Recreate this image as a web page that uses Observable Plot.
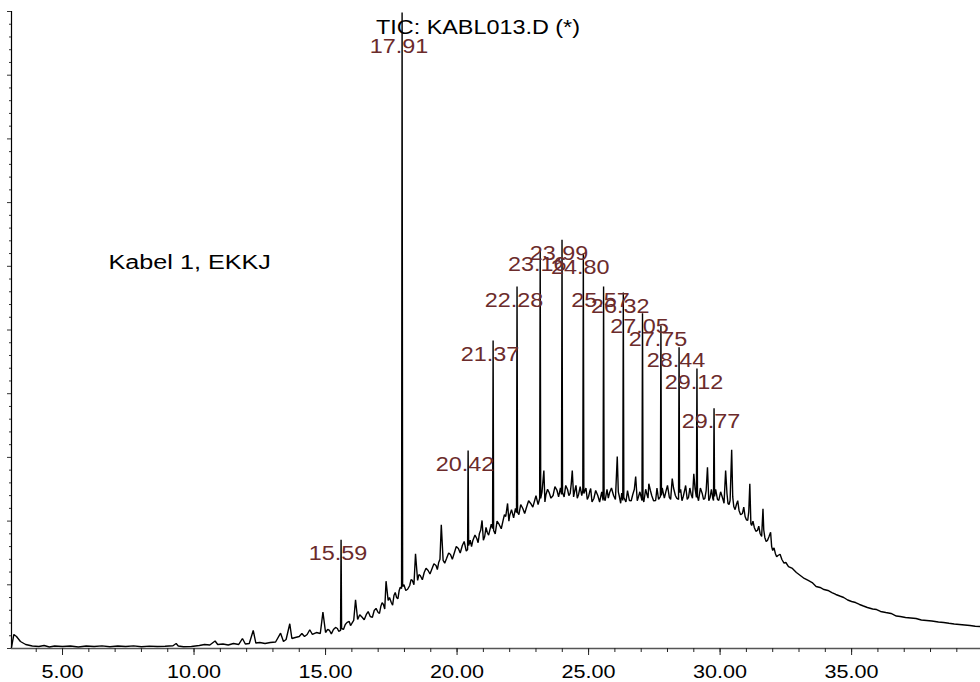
<!DOCTYPE html>
<html><head><meta charset="utf-8">
<script src="https://cdn.jsdelivr.net/npm/d3@7"></script>
<script src="https://cdn.jsdelivr.net/npm/@observablehq/plot@0.6"></script>
<style>html,body{margin:0;padding:0;background:#fff;} #chart{width:980px;height:682px;overflow:hidden}</style>
</head><body><div id="chart"></div>
<script>
// Retention time (min) of the total ion chromatogram trace
const traceTime = [3.06,3.15,3.25,3.4,3.6,3.85,4.1,4.3,4.5,4.7,5.0,5.3,5.6,5.9,6.2,6.5,6.8,7.1,7.4,7.7,8.0,8.3,8.6,8.9,9.2,9.32,9.4,9.6,9.9,10.2,10.4,10.6,10.8,10.9,11.1,11.3,11.5,11.7,11.84,11.95,12.1,12.25,12.35,12.5,12.7,12.9,13.1,13.29,13.4,13.5,13.64,13.72,13.85,14.0,14.1,14.2,14.3,14.4,14.5,14.65,14.8,14.9,15.0,15.15,15.3,15.45,15.57,15.59,15.61,15.75,15.9,16.0,16.14,16.22,16.4,16.55,16.7,16.85,17.0,17.1,17.2,17.3,17.38,17.5,17.6,17.7,17.8,17.89,17.91,17.93,18.05,18.2,18.3,18.42,18.5,18.6,18.75,18.9,19.05,19.2,19.3,19.4,19.47,19.6,19.75,19.9,20.05,20.2,20.40,20.42,20.44,20.6,20.75,20.85,20.95,21.05,21.15,21.35,21.37,21.39,21.6,21.75,21.85,21.92,22.0,22.26,22.28,22.30,22.5,22.65,22.8,22.95,23.14,23.16,23.18,23.3,23.38,23.5,23.65,23.8,23.97,23.99,24.01,24.2,24.3,24.38,24.47,24.62,24.78,24.8,24.82,25.0,25.08,25.2,25.35,25.55,25.57,25.59,25.8,25.95,26.09,26.17,26.30,26.32,26.34,26.55,26.68,26.79,26.9,27.03,27.05,27.07,27.22,27.29,27.4,27.55,27.73,27.75,27.77,27.95,28.07,28.18,28.3,28.42,28.44,28.46,28.6,28.69,28.8,28.9,29.0,29.10,29.12,29.14,29.32,29.42,29.52,29.62,29.75,29.77,29.79,29.95,30.1,30.21,30.3,30.38,30.44,30.52,30.62,30.72,30.85,30.95,31.05,31.13,31.2,31.3,31.42,31.52,31.63,31.7,31.8,31.92,32.0,32.1,32.2,32.35,32.5,32.6,32.75,32.9,33.05,33.2,33.35,33.5,33.65,33.8,33.95,34.1,34.25,34.4,34.55,34.7,34.85,35.0,35.15,35.3,35.45,35.6,35.8,35.95,36.1,36.3,36.5,36.7,36.85,37.05,37.25,37.45,37.65,37.85,38.05,38.3,38.5,38.7,38.9,39.1,39.3,39.5,39.7,39.9];
// Abundance (thousands of counts) at each time above
const traceAbundance = [1.6,22,18.8,11,6.3,3.9,3.1,4.7,2.4,3.9,3.1,3.9,2.4,3.9,3.1,4.2,2.8,3.9,3.1,4.1,2.8,3.8,3.1,3.5,4.4,7.9,3.9,2.7,3.1,4.7,6.3,5.5,11.8,6.3,7.1,5.5,7.9,6.3,15.7,7.1,7.9,28.3,8.6,9.4,7.9,9.4,10.2,24,11,14.1,38.8,15.7,17.3,18.8,23.6,18.8,22,29.4,22,25.1,23.6,57,25.1,28.3,29.8,31.4,28.3,170.6,31.4,37.7,42.4,39.3,76.5,45.5,48.7,53.4,50.2,59.7,56.5,65.9,69.1,105.7,75.4,72.2,83.2,80.1,91.1,94.2,998.5,97.3,91.1,98.9,106.8,148.7,106.8,114.6,119.3,122.5,125.6,130.3,135,194.2,138.2,141.3,147.6,150.7,157,161.7,155.4,310.9,161.7,169.6,172.7,180.6,201,175.8,182.1,188.4,483.6,185.3,194.7,201,207.2,227.7,208.8,213.5,568.3,213.5,219.8,222.9,227.7,232.4,235.5,624.9,235.5,279.5,241.8,244.9,240.2,248.1,241.8,641.7,244.9,249.6,243.4,279.5,246.5,241.8,248.1,620.2,243.4,238.6,251.2,235.5,240.2,232.4,568.3,237.1,244.9,240.2,301.4,238.6,232.4,558.9,237.1,232.4,241.8,270,238.6,232.4,526.4,235.5,241.8,258.6,240.2,232.4,238.6,507.1,240.2,248.1,237.1,266.9,240.2,233.9,473,244.9,238.6,255.9,237.1,241.8,274.3,237.1,439.6,238.6,243.4,235.5,284.6,237.1,232.4,377.3,238.6,232.4,235.5,279.5,227.7,232.4,312,222.9,226.1,216.7,212,207.2,201,258.6,193.1,190,185.3,180.6,219.3,174.3,169.6,182.6,153.9,149.2,146,139.7,135,128.7,125.6,119.3,114.6,109.9,106.8,103.6,97.3,95.8,92.6,91.1,87.9,84.8,82.4,80.1,76.1,73.8,72.2,69.1,66.7,64.4,62,61.2,58.1,56.5,55,51,50.2,48.7,47.9,47.1,44.7,44,43.2,41.6,40.8,39.6,38.5,37.7,36.9,36.1,34.9,34.5];

// Extra noise detail of the unresolved hump, read between the points above
const detailTime = [15.08,15.22,15.38,15.5,15.68,15.82,15.95,16.07,16.3,16.47,16.62,16.78,16.92,17.05,17.15,17.25,17.43,17.55,17.65,17.75,17.84,17.98,18.12,18.25,18.36,18.55,18.68,18.82,18.97,19.12,19.25,19.35,19.53,19.68,19.82,19.97,20.12,20.27,20.35,20.5,20.55,20.68,20.8,20.9,21.0,21.1,21.2,21.3,21.45,21.52,21.68,21.8,21.97,22.07,22.15,22.22,22.35,22.42,22.57,22.72,22.88,23.0,23.08,23.23,23.34,23.44,23.57,23.72,23.86,23.93,24.07,24.13,24.25,24.34,24.43,24.52,24.57,24.68,24.74,24.9,24.95,25.04,25.13,25.27,25.42,25.5,25.63,25.7,25.75,25.87,26.02,26.13,26.22,26.26,26.42,26.48,26.62,26.74,26.85,26.95,27.1,27.17,27.26,27.35,27.47,27.6,27.66,27.8,27.88,28.0,28.12,28.23,28.35,28.5,28.55,28.65,28.75,28.85,28.95,29.05,29.18,29.25,29.37,29.47,29.57,29.67,29.72,29.83,29.9,30.02,30.15,30.26,30.34,30.48,30.57,30.67,30.78,30.9,31.0,31.09,31.17,31.25,31.36,31.47,31.58,31.66,31.75,31.86,31.96,32.05,32.15,32.28,32.43];
const detailAbundance = [30,23,33,27,30,41,36,44,53,45,58,49,63,55,72,62,80,68,88,78,96,100,93,108,100,116,108,126,117,133,124,140,134,150,140,160,150,168,153,170,160,178,166,186,170,190,178,195,180,200,188,210,200,218,205,220,210,226,212,232,222,240,226,246,230,250,236,254,238,252,238,256,240,258,238,256,236,254,240,252,234,246,230,248,230,246,232,250,236,252,234,246,228,244,230,248,232,250,232,246,230,250,236,248,232,252,234,252,236,256,234,252,236,250,232,248,234,252,236,250,232,252,234,248,232,250,236,250,234,246,228,244,226,238,218,232,210,222,202,215,196,200,184,192,176,186,168,176,160,158,144,148,134];

// Labelled peaks
const peakLabel = ["15.59","17.91","20.42","21.37","22.28","23.16","23.99","24.80","25.57","26.32","27.05","27.75","28.44","29.12","29.77"];
const peakTime = [15.59,17.91,20.42,21.37,22.28,23.16,23.99,24.80,25.57,26.32,27.05,27.75,28.44,29.12,29.77];
const peakApex = [170.6,998.5,310.9,483.6,568.3,624.9,641.7,620.2,568.3,558.9,526.4,507.1,473,439.6,377.3];

// Axis ticks
const xDomain = [3.06, 39.9];
const yDomain = [0, 1000];
const xMajorTicks = [5,10,15,20,25,30,35];
const xMinorTicks = [4,5,6,7,8,9,10,11,12,13,14,15,16,17,18,19,20,21,22,23,24,25,26,27,28,29,30,31,32,33,34,35,36,37,38,39];
const yMajorTicks = [0,100,200,300,400,500,600,700,800,900,1000];
const yMinorTicks = [20,40,60,80,120,140,160,180,220,240,260,280,320,340,360,380,420,440,460,480,520,540,560,580,620,640,660,680,720,740,760,780,820,840,860,880,920,940,960,980];

const titleText = "TIC: KABL013.D (*)";
const sampleText = "Kabel 1, EKKJ";

const trace = traceTime.map((t, i) => ({t, v: traceAbundance[i]}))
  .concat(detailTime.map((t, i) => ({t, v: detailAbundance[i]})))
  .sort((a, b) => a.t - b.t);
const peaks = peakTime.map((t, i) => ({t, v: peakApex[i], label: peakLabel[i]}));

const FONT = "'Liberation Sans', Arial, sans-serif";
const SX = 1.2;

const svg = Plot.plot({
  width: 980,
  height: 682,
  marginLeft: 11,
  marginRight: 0,
  marginTop: 11,
  marginBottom: 34,
  style: {fontFamily: FONT, background: "#fff", overflow: "visible"},
  x: {domain: xDomain, axis: null},
  y: {domain: yDomain, axis: null},
  marks: [
    Plot.line(trace, {x: "t", y: "v", stroke: "#000", strokeWidth: 1.4, strokeLinejoin: "miter"}),
    Plot.ruleY([0], {stroke: "#555", strokeWidth: 1.3}),
    Plot.ruleX([xDomain[0]], {stroke: "#000", strokeWidth: 1.2}),
    Plot.axisX(xMinorTicks, {tickSize: 4, tickFormat: () => "", stroke: "#222", label: null}),
    Plot.axisX(xMajorTicks, {tickSize: 7, tickPadding: 10, tickFormat: d3.format(".2f"), fontSize: 18, fill: "#000", stroke: "#222", label: null}),
    Plot.axisY(yMinorTicks, {tickSize: 2, tickFormat: () => "", stroke: "#333", label: null}),
    Plot.axisY(yMajorTicks, {tickSize: 4, tickFormat: () => "", stroke: "#333", label: null}),
    Plot.text(peaks, {x: "t", y: d => Math.min(d.v, 967), text: "label", dy: 14, dx: -3, fill: "#6b2b2b", fontSize: 19.5, textAnchor: "middle", lineAnchor: "middle"}),
    Plot.text([titleText], {frameAnchor: "top", dx: -18, dy: 16, fontSize: 19.5, fill: "#000", lineAnchor: "middle", letterSpacing: -0.6}),
    Plot.text([sampleText], {frameAnchor: "top-left", dx: 97, dy: 251, fontSize: 21, fill: "#000", textAnchor: "start", lineAnchor: "middle"})
  ]
});

document.getElementById("chart").appendChild(svg);

// horizontally widen the lettering about its anchor, as in the source image
svg.querySelectorAll("text").forEach(el => {
  if (!el.textContent) return;
  const b = el.getBBox();
  const anchor = getComputedStyle(el).textAnchor;
  const cx = anchor === "start" ? b.x : anchor === "end" ? b.x + b.width : b.x + b.width / 2;
  const tr = el.getAttribute("transform") || "";
  el.setAttribute("transform", `${tr} translate(${cx},0) scale(${SX},1) translate(${-cx},0)`);
});
</script>
</body></html>
